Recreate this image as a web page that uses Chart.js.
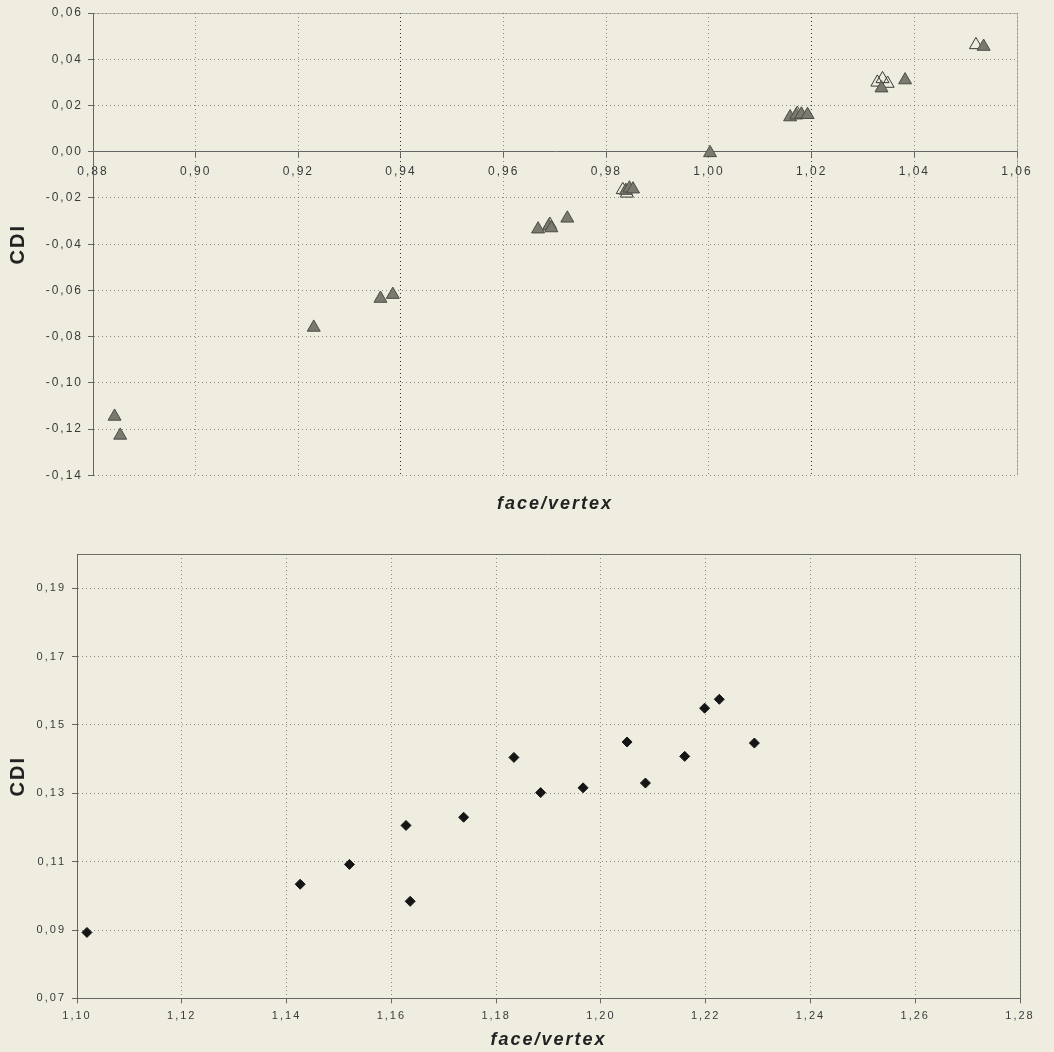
<!DOCTYPE html>
<html>
<head>
<meta charset="utf-8">
<script src="https://cdn.jsdelivr.net/npm/chart.js@4/dist/chart.umd.min.js"></script>
<style>
  html, body { margin: 0; padding: 0; background: #eeede0; }
  body { width: 1054px; height: 1052px; overflow: hidden; }
  canvas { display: block; }
</style>
</head>
<body>
<canvas id="top" width="1054" height="525"></canvas>
<canvas id="bottom" width="1054" height="527"></canvas>
<script>
// ---------- DATA ----------
// Top chart (CDI vs face/vertex), filled triangles
const topFilledX = [0.8842, 0.8853, 0.9230, 0.9360, 0.9384, 0.9667, 0.9688, 0.9693, 0.9724, 0.9838, 0.9845, 0.9852, 1.0002, 1.0158, 1.0170, 1.0180, 1.0192, 1.0336, 1.0382, 1.0535];
const topFilledY = [-0.1145, -0.1227, -0.0760, -0.0635, -0.0618, -0.0335, -0.0322, -0.0330, -0.0288, -0.0168, -0.0158, -0.0162, -0.0005, 0.0150, 0.0158, 0.0162, 0.0160, 0.0275, 0.0310, 0.0455];
// Top chart, open triangles
const topOpenX = [0.9690, 0.9840, 0.9832, 1.0172, 1.0328, 1.0338, 1.0348, 1.0520];
const topOpenY = [-0.0315, -0.0180, -0.0165, 0.0165, 0.0300, 0.0315, 0.0295, 0.0462];
// Top chart ticks
const topXTicks = [0.88, 0.90, 0.92, 0.94, 0.96, 0.98, 1.00, 1.02, 1.04, 1.06];
const topYTicks = [-0.14, -0.12, -0.10, -0.08, -0.06, -0.04, -0.02, 0.00, 0.02, 0.04, 0.06];

// Bottom chart, diamonds
const bottomX = [1.1019, 1.1426, 1.1520, 1.1628, 1.1636, 1.1738, 1.1834, 1.1885, 1.1966, 1.2050, 1.2085, 1.2160, 1.2198, 1.2226, 1.2293];
const bottomY = [0.0893, 0.1034, 0.1092, 0.1206, 0.0984, 0.1230, 0.1405, 0.1302, 0.1316, 0.1450, 0.1330, 0.1408, 0.1549, 0.1575, 0.1447];
// Bottom chart ticks
const bottomXTicks = [1.10, 1.12, 1.14, 1.16, 1.18, 1.20, 1.22, 1.24, 1.26, 1.28];
const bottomYTicks = [0.07, 0.09, 0.11, 0.13, 0.15, 0.17, 0.19];

const xTitle = 'face/vertex';
const yTitle = 'CDI';

// ---------- HELPERS ----------
const toPts = (xs, ys) => xs.map((x, i) => ({ x: x, y: ys[i] }));
const fmt = (v) => Number(v).toFixed(2).replace('.', ',');
const setTicks = (arr) => (scale) => { scale.ticks = arr.map(v => ({ value: v })); };
const FONT = "'Liberation Sans', Arial, Helvetica, sans-serif";
const GRID = 'rgba(60,60,50,0.55)';

const spacingPlugin = {
  id: 'spacing',
  beforeDraw(chart) { chart.ctx.letterSpacing = '2px'; }
};
const framePlugin = {
  id: 'frame',
  afterDraw(chart, args, opts) {
    const a = chart.chartArea, ctx = chart.ctx;
    ctx.save();
    ctx.strokeStyle = opts.color;
    ctx.lineWidth = 1;
    ctx.beginPath();
    ctx.moveTo(a.left, a.top + 0.5);
    ctx.lineTo(a.right + 0.5, a.top + 0.5);
    ctx.lineTo(a.right + 0.5, a.bottom);
    ctx.stroke();
    ctx.restore();
  }
};

Chart.defaults.font.family = FONT;
Chart.defaults.color = '#3a3a3a';

const gridOpts = (colorFn) => ({
  color: colorFn || GRID,
  lineWidth: 1,
  tickBorderDash: [],
  tickColor: '#666',
  tickLength: 5
});
const borderOpts = { display: true, color: '#666', width: 1, dash: [1, 3] };

// ---------- TOP CHART ----------
new Chart(document.getElementById('top'), {
  type: 'scatter',
  data: {
    datasets: [
      {
        data: toPts(topFilledX, topFilledY),
        pointStyle: 'triangle',
        pointRadius: 7.5,
        backgroundColor: '#7a7a70',
        borderColor: '#4c4c46',
        borderWidth: 1
      },
      {
        data: toPts(topOpenX, topOpenY),
        pointStyle: 'triangle',
        pointRadius: 7.5,
        backgroundColor: 'rgba(0,0,0,0)',
        borderColor: '#3a3a36',
        borderWidth: 1
      }
    ]
  },
  options: {
    responsive: false,
    animation: false,
    events: [],
    layout: { padding: { left: 0, right: 37, top: 13, bottom: 0 } },
    plugins: {
      legend: { display: false },
      tooltip: { enabled: false },
      title: {
        display: true,
        text: xTitle,
        position: 'bottom',
        fullSize: false,
        color: '#222',
        font: { family: FONT, size: 18, weight: 'bold', style: 'italic' },
        padding: { top: 18, bottom: 10 }
      },
      frame: { color: 'rgba(120,120,110,0.45)' }
    },
    scales: {
      x: {
        type: 'linear',
        position: { y: 0 },
        min: 0.88, max: 1.06,
        afterBuildTicks: setTicks(topXTicks),
        grid: gridOpts((c) => (c.tick && (Math.abs(c.tick.value - 0.94) < 1e-6 || Math.abs(c.tick.value - 1.02) < 1e-6)) ? 'rgba(30,30,25,0.9)' : GRID),
        border: borderOpts,
        ticks: { font: { size: 12 }, padding: 8, maxRotation: 0, callback: fmt }
      },
      y: {
        type: 'linear',
        min: -0.14, max: 0.06,
        afterBuildTicks: setTicks(topYTicks),
        afterFit: (s) => { s.width = 93; },
        grid: gridOpts(),
        border: borderOpts,
        ticks: { font: { size: 12 }, padding: 5, callback: fmt },
        title: {
          display: true,
          text: yTitle,
          color: '#222',
          font: { family: FONT, size: 20, weight: 'bold' },
          padding: { top: 6, bottom: 0 }
        }
      }
    }
  },
  plugins: [spacingPlugin, framePlugin]
});

// ---------- BOTTOM CHART ----------
new Chart(document.getElementById('bottom'), {
  type: 'scatter',
  data: {
    datasets: [
      {
        data: toPts(bottomX, bottomY),
        pointStyle: 'rectRot',
        pointRadius: 5,
        backgroundColor: '#151515',
        borderColor: '#151515',
        borderWidth: 1
      }
    ]
  },
  options: {
    responsive: false,
    animation: false,
    events: [],
    layout: { padding: { left: 0, right: 34, top: 29, bottom: 0 } },
    plugins: {
      legend: { display: false },
      tooltip: { enabled: false },
      title: {
        display: true,
        text: xTitle,
        position: 'bottom',
        fullSize: false,
        color: '#222',
        font: { family: FONT, size: 18, weight: 'bold', style: 'italic' },
        padding: { top: 7, bottom: 1 }
      },
      frame: { color: 'rgba(80,80,75,0.8)' }
    },
    scales: {
      x: {
        type: 'linear',
        position: 'bottom',
        min: 1.10, max: 1.28,
        afterBuildTicks: setTicks(bottomXTicks),
        afterFit: (s) => { s.height = 24; },
        grid: gridOpts(),
        border: borderOpts,
        ticks: { font: { size: 11 }, padding: 6, maxRotation: 0, callback: fmt }
      },
      y: {
        type: 'linear',
        min: 0.07, max: 0.20,
        afterBuildTicks: setTicks(bottomYTicks),
        afterFit: (s) => { s.width = 77; },
        grid: gridOpts(),
        border: borderOpts,
        ticks: { font: { size: 11 }, padding: 6, callback: fmt },
        title: {
          display: true,
          text: yTitle,
          color: '#222',
          font: { family: FONT, size: 20, weight: 'bold' },
          padding: { top: 6, bottom: 0 }
        }
      }
    }
  },
  plugins: [spacingPlugin, framePlugin]
});
</script>
</body>
</html>
